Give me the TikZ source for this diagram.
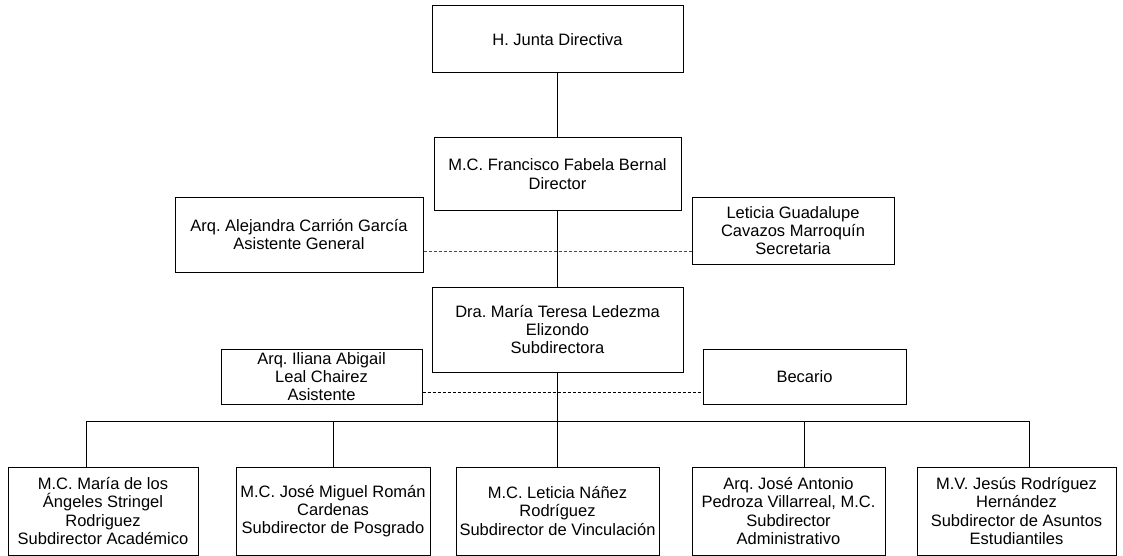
\documentclass[tikz,border=0pt]{standalone}
\usepackage{fontspec}
\setmainfont{Liberation Sans}
\usetikzlibrary{positioning}
\frenchspacing

\begin{document}
\begin{tikzpicture}[
    x=1pt, y=-1pt,
    box/.style={draw, line width=1pt, align=center, inner sep=0pt, font=\fontsize{16.5}{18.3}\selectfont},
    link/.style={line width=0.9pt},
    dashlink/.style={line width=0.9pt, dash pattern=on 3pt off 2pt}
  ]
    \useasboundingbox (0,0) rectangle (1123,556);
    \node[box, minimum width=251pt, minimum height=67pt] (junta) at (557.5,39.5) {H. Junta Directiva};
    \node[box, minimum width=247pt, minimum height=72pt] (director) at (557.5,174) {M.C. Francisco Fabela Bernal\\Director};
    \node[box, minimum width=248pt, minimum height=75pt] (asistgral) at (299,234.5) {Arq. Alejandra Carrión García\\Asistente General};
    \node[box, minimum width=202pt, minimum height=67pt] (secretaria) at (793,230.5) {Leticia Guadalupe\\Cavazos Marroquín\\Secretaria};
    \node[box, minimum width=251pt, minimum height=85pt] (subdir) at (557.5,329.5) {Dra. María Teresa Ledezma\\Elizondo\\Subdirectora};
    \node[box, minimum width=201pt, minimum height=55pt] (asistente) at (321.5,376.5) {Arq. Iliana Abigail\\Leal Chairez\\Asistente};
    \node[box, minimum width=203pt, minimum height=55pt] (becario) at (804.5,376.5) {Becario};
    \node[box, minimum width=190pt, minimum height=88pt] (academico) at (103,511) {M.C. María de los\\Ángeles Stringel\\Rodriguez\\Subdirector Académico};
    \node[box, minimum width=194pt, minimum height=88pt] (posgrado) at (333,511) {M.C. José Miguel Román\\Cardenas\\Subdirector de Posgrado};
    \node[box, minimum width=203pt, minimum height=88pt] (vinculacion) at (557.5,511) {M.C. Leticia Náñez\\Rodríguez\\Subdirector de Vinculación};
    \node[box, minimum width=193pt, minimum height=88pt] (administrativo) at (788.5,511) {Arq. José Antonio\\Pedroza Villarreal, M.C.\\Subdirector\\Administrativo};
    \node[box, minimum width=199pt, minimum height=88pt] (estudiantiles) at (1016.5,511) {M.V. Jesús Rodríguez\\Hernández\\Subdirector de Asuntos\\Estudiantiles};
    \coordinate (bus) at (557.5,421.7);
    \coordinate (stubA) at ([xshift=-17pt]academico.north);
    \coordinate (stubD) at ([xshift=15.5pt]administrativo.north);
    \coordinate (stubE) at ([xshift=12.5pt]estudiantiles.north);
    \coordinate (dashA) at ([yshift=-16.5pt]asistgral.east);
    \coordinate (dashB) at ([yshift=-15.5pt]asistente.east);
    \draw[link] (junta.south) -- (director.north);
    \draw[link] (director.south) -- (subdir.north);
    \draw[link] (subdir.south) -- (vinculacion.north);
    \draw[link] (stubA) |- (bus) -| (stubE);
    \draw[link] (posgrado.north) -- (posgrado.north |- bus);
    \draw[link] (stubD) -- (stubD |- bus);
    \draw[dashlink, black!70] (dashA) -- (dashA -| secretaria.west);
    \draw[dashlink] (dashB) -- (dashB -| becario.west);
  \end{tikzpicture}
\end{document}
